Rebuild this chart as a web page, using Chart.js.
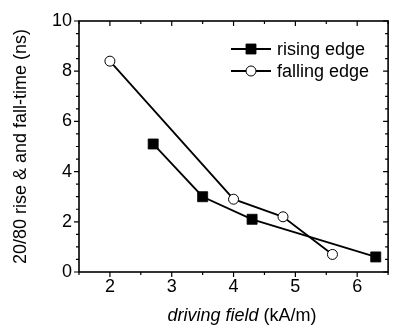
<!DOCTYPE html>
<html>
<head>
<meta charset="utf-8">
<script src="https://cdn.jsdelivr.net/npm/chart.js@4/dist/chart.umd.min.js"></script>
<style>
  html, body { margin: 0; padding: 0; background: #fff; overflow: hidden; }
  canvas { display: block; }
</style>
</head>
<body>
<canvas id="c" width="396" height="328"></canvas>
<script>
const xTicks = [2, 3, 4, 5, 6];
const yTicks = [0, 2, 4, 6, 8, 10];
const risingX = [2.7, 3.5, 4.3, 6.3];
const risingY = [5.1, 3.0, 2.1, 0.6];
const fallingX = [2.0, 4.0, 4.8, 5.6];
const fallingY = [8.4, 2.9, 2.2, 0.7];
const seriesNames = ['rising edge', 'falling edge'];

const FONT = '"Liberation Sans", Arial, sans-serif';
const pts = (xs, ys) => xs.map((x, i) => ({ x: x, y: ys[i] }));

// frame, minor/major ticks, axis titles and legend
const decor = {
  id: 'decor',
  afterDraw(chart) {
    const ctx = chart.ctx, a = chart.chartArea;
    const xs = chart.scales.x, ys = chart.scales.y;
    ctx.save();
    ctx.strokeStyle = '#000';
    ctx.lineWidth = 1.6;
    ctx.strokeRect(a.left, a.top, a.right - a.left, a.bottom - a.top);
    ctx.lineWidth = 1.2;
    ctx.beginPath();
    for (let v = xs.min; v <= xs.max + 1e-9; v += 0.5) {
      const px = xs.getPixelForValue(v);
      const len = xTicks.includes(v) ? 5 : 3;
      ctx.moveTo(px, a.bottom); ctx.lineTo(px, a.bottom + len);
      ctx.moveTo(px, a.top); ctx.lineTo(px, a.top + len);
    }
    for (let v = ys.min; v <= ys.max + 1e-9; v += 0.5) {
      const py = ys.getPixelForValue(v);
      const len = yTicks.includes(v) ? 5 : 3;
      ctx.moveTo(a.left, py); ctx.lineTo(a.left - len, py);
      ctx.moveTo(a.right, py); ctx.lineTo(a.right - len, py);
    }
    ctx.stroke();

    // x title, part italic
    ctx.fillStyle = '#000';
    ctx.textBaseline = 'alphabetic';
    const t1 = 'driving field', t2 = ' (kA/m)';
    ctx.font = 'italic 18px ' + FONT;
    const w1 = ctx.measureText(t1).width;
    ctx.font = '18px ' + FONT;
    const w2 = ctx.measureText(t2).width;
    let sx = 242 - (w1 + w2) / 2;
    ctx.font = 'italic 18px ' + FONT;
    ctx.fillText(t1, sx, 321);
    ctx.font = '18px ' + FONT;
    ctx.fillText(t2, sx + w1, 321);

    // y title
    ctx.save();
    ctx.translate(25.5, (a.top + a.bottom) / 2);
    ctx.rotate(-Math.PI / 2);
    ctx.textAlign = 'center';
    ctx.fillText('20/80 rise & and fall-time (ns)', 0, 0);
    ctx.restore();

    // legend
    chart.data.datasets.forEach((ds, i) => {
      const ly = 49 + i * 22;
      ctx.strokeStyle = '#000';
      ctx.lineWidth = 1.8;
      ctx.beginPath();
      ctx.moveTo(231, ly); ctx.lineTo(271, ly);
      ctx.stroke();
      ctx.fillStyle = ds.pointBackgroundColor;
      ctx.lineWidth = ds.pointBorderWidth;
      ctx.beginPath();
      if (ds.pointStyle === 'rect') {
        const s = Math.SQRT1_2 * ds.pointRadius;
        ctx.rect(251 - s, ly - s, 2 * s, 2 * s);
      } else {
        ctx.arc(251, ly, ds.pointRadius, 0, Math.PI * 2);
      }
      ctx.fill(); ctx.stroke();
      ctx.fillStyle = '#000';
      ctx.font = '18px ' + FONT;
      ctx.textAlign = 'left';
      ctx.textBaseline = 'middle';
      ctx.fillText(seriesNames[i], 277, ly + 1);
    });
    ctx.restore();
  }
};

new Chart(document.getElementById('c'), {
  type: 'scatter',
  data: {
    datasets: [
      {
        label: seriesNames[0],
        data: pts(risingX, risingY),
        showLine: true,
        borderColor: '#000',
        borderWidth: 1.8,
        pointStyle: 'rect',
        pointRadius: 7.1,
        pointHoverRadius: 7.1,
        pointBackgroundColor: '#000',
        pointBorderColor: '#000',
        pointBorderWidth: 0.8
      },
      {
        label: seriesNames[1],
        data: pts(fallingX, fallingY),
        showLine: true,
        borderColor: '#000',
        borderWidth: 1.8,
        pointStyle: 'circle',
        pointRadius: 5,
        pointHoverRadius: 5,
        pointBackgroundColor: '#fff',
        pointBorderColor: '#000',
        pointBorderWidth: 1
      }
    ]
  },
  options: {
    responsive: false,
    animation: false,
    devicePixelRatio: 1,
    layout: { padding: { top: 21, right: 1, left: 0, bottom: 0 } },
    plugins: { legend: { display: false }, tooltip: { enabled: false } },
    scales: {
      x: {
        type: 'linear', min: 1.5, max: 6.5,
        grid: { display: false, drawTicks: false }, border: { display: false },
        afterBuildTicks: s => { s.ticks = xTicks.map(v => ({ value: v })); },
        afterFit: s => { s.height = 56; },
        ticks: { color: '#000', padding: 4, font: { family: FONT, size: 18 } }
      },
      y: {
        type: 'linear', min: 0, max: 10,
        grid: { display: false, drawTicks: false }, border: { display: false },
        afterBuildTicks: s => { s.ticks = yTicks.map(v => ({ value: v })); },
        afterFit: s => { s.width = 79; },
        ticks: { color: '#000', padding: 7, font: { family: FONT, size: 18 } }
      }
    }
  },
  plugins: [decor]
});
</script>
</body>
</html>
